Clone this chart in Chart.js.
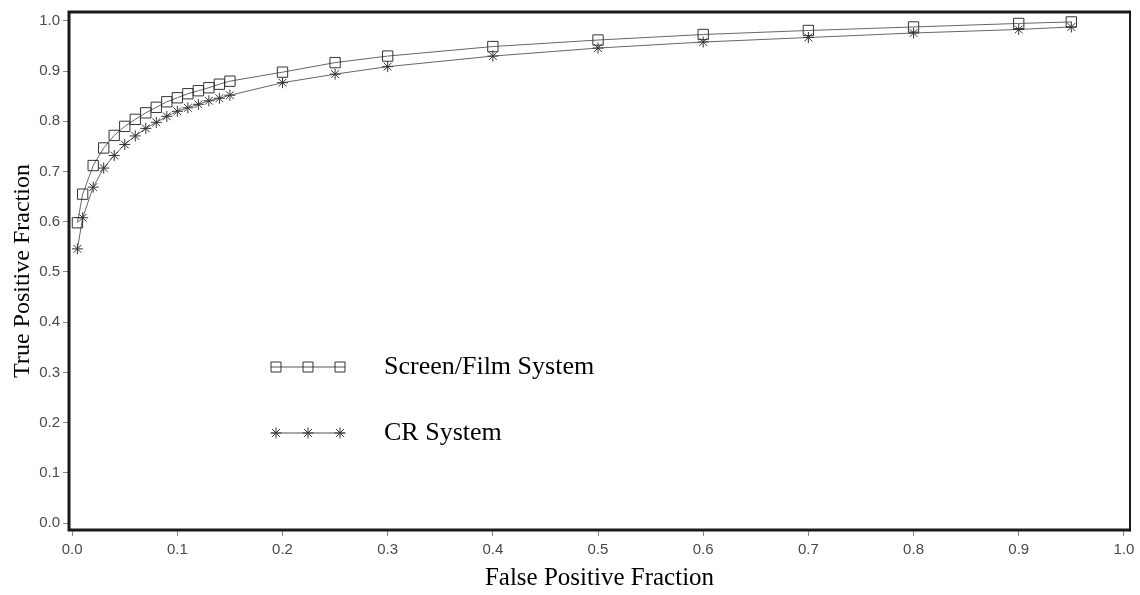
<!DOCTYPE html>
<html>
<head>
<meta charset="utf-8">
<title>ROC curves</title>
<script src="https://cdn.jsdelivr.net/npm/chart.js@4"></script>
<style>
  html, body { margin: 0; padding: 0; background: #fff; }
  #wrap { width: 1140px; height: 595px; }
</style>
</head>
<body>
<div id="wrap"><canvas id="roc"></canvas></div>
<script>
// values
const fpf = [0.005, 0.01, 0.02, 0.03, 0.04, 0.05, 0.06, 0.07, 0.08, 0.09, 0.10, 0.11, 0.12,
  0.13, 0.14, 0.15, 0.2, 0.25, 0.3, 0.4, 0.5, 0.6, 0.7, 0.8, 0.9, 0.95];
const screenFilm = [0.598, 0.655, 0.712, 0.747, 0.772, 0.790, 0.804, 0.817, 0.828, 0.839, 0.847,
  0.855, 0.861, 0.867, 0.874, 0.880, 0.898, 0.917, 0.930, 0.949, 0.962, 0.973, 0.981, 0.988, 0.995, 0.998];
const crSystem = [0.546, 0.608, 0.669, 0.707, 0.732, 0.754, 0.771, 0.786, 0.798, 0.810, 0.820,
  0.827, 0.834, 0.841, 0.846, 0.852, 0.877, 0.894, 0.909, 0.930, 0.946, 0.958, 0.967, 0.976, 0.983, 0.988];
const seriesNames = ['Screen/Film System', 'CR System'];
const xTicks = [0, 0.1, 0.2, 0.3, 0.4, 0.5, 0.6, 0.7, 0.8, 0.9, 1.0];
const yTicks = [0, 0.1, 0.2, 0.3, 0.4, 0.5, 0.6, 0.7, 0.8, 0.9, 1.0];
const xTitle = 'False Positive Fraction';
const yTitle = 'True Positive Fraction';

const serif = '"Liberation Serif", "Times New Roman", serif';
const sans = '"Liberation Sans", Arial, sans-serif';

function toPoints(ys) {
  return fpf.map((x, i) => ({ x: x, y: ys[i] }));
}

function drawMarker(ctx, style, x, y) {
  ctx.beginPath();
  if (style === 'rect') {
    ctx.rect(x - 5, y - 5, 10, 10);
  } else {
    const r = 5.5;
    ctx.moveTo(x, y - r); ctx.lineTo(x, y + r);
    ctx.moveTo(x - r, y); ctx.lineTo(x + r, y);
    const d = r * 0.72;
    ctx.moveTo(x - d, y - d); ctx.lineTo(x + d, y + d);
    ctx.moveTo(x - d, y + d); ctx.lineTo(x + d, y - d);
  }
  ctx.stroke();
}

// frame round the plot area
const framePlugin = {
  id: 'frame',
  afterDraw(chart) {
    const { ctx, chartArea: a } = chart;
    ctx.save();
    ctx.strokeStyle = '#1a1a1a';
    ctx.lineWidth = 3;
    ctx.beginPath();
    ctx.moveTo(a.right, a.top);
    ctx.lineTo(a.left, a.top);
    ctx.lineTo(a.left, a.bottom);
    ctx.lineTo(a.right, a.bottom);
    ctx.stroke();
    ctx.lineWidth = 2;
    ctx.beginPath();
    ctx.moveTo(a.right, a.top - 1.5);
    ctx.lineTo(a.right, a.bottom + 1.5);
    ctx.stroke();
    ctx.restore();
  }
};

// legend drawn inside the plot
const innerLegend = {
  id: 'innerLegend',
  afterDraw(chart) {
    const ctx = chart.ctx;
    const rows = [367, 433];
    ctx.save();
    chart.data.datasets.forEach((ds, i) => {
      const y = rows[i];
      ctx.strokeStyle = '#555';
      ctx.lineWidth = 1;
      ctx.beginPath();
      ctx.moveTo(271, y);
      ctx.lineTo(345, y);
      ctx.stroke();
      ctx.strokeStyle = '#333';
      [276, 308, 340].forEach(px => drawMarker(ctx, ds.pointStyle, px, y));
      ctx.fillStyle = '#000';
      ctx.font = '26px ' + serif;
      ctx.textBaseline = 'middle';
      ctx.textAlign = 'left';
      ctx.fillText(ds.label, 384, y);
    });
    ctx.restore();
  }
};

new Chart(document.getElementById('roc'), {
  type: 'line',
  data: {
    datasets: [
      {
        label: seriesNames[0],
        data: toPoints(screenFilm),
        borderColor: '#666',
        borderWidth: 1,
        pointStyle: 'rect',
        pointRadius: 7.3,
        pointBorderColor: '#333',
        pointBorderWidth: 1,
        pointBackgroundColor: 'rgba(0,0,0,0)',
        tension: 0
      },
      {
        label: seriesNames[1],
        data: toPoints(crSystem),
        borderColor: '#666',
        borderWidth: 1,
        pointStyle: 'star',
        pointRadius: 5.5,
        pointBorderColor: '#333',
        pointBorderWidth: 1,
        pointBackgroundColor: 'rgba(0,0,0,0)',
        tension: 0
      }
    ]
  },
  options: {
    responsive: true,
    maintainAspectRatio: false,
    animation: false,
    layout: { padding: { top: 9, right: 10, left: 0, bottom: 0 } },
    plugins: {
      legend: { display: false },
      tooltip: { enabled: false }
    },
    scales: {
      x: {
        type: 'linear',
        min: -0.003,
        max: 1.0058,
        afterFit: s => { s.height = 65; },
        afterBuildTicks: s => { s.ticks = xTicks.map(v => ({ value: v })); },
        grid: { drawOnChartArea: false, drawTicks: true, tickLength: 6, color: '#888' },
        border: { display: false },
        ticks: {
          padding: 5,
          color: '#4a4a4a',
          font: { family: sans, size: 15 },
          callback: v => v.toFixed(1)
        },
        title: {
          display: true,
          text: xTitle,
          color: '#000',
          font: { family: serif, size: 25 },
          padding: { top: 0, bottom: 2 }
        }
      },
      y: {
        type: 'linear',
        min: -0.0139,
        max: 1.0178,
        afterFit: s => { s.width = 69; },
        afterBuildTicks: s => { s.ticks = yTicks.map(v => ({ value: v })); },
        grid: { drawOnChartArea: false, drawTicks: true, tickLength: 6, color: '#888' },
        border: { display: false },
        ticks: {
          padding: 3,
          color: '#4a4a4a',
          font: { family: sans, size: 15 },
          callback: v => v.toFixed(1)
        },
        title: {
          display: true,
          text: yTitle,
          color: '#000',
          font: { family: serif, size: 24 },
          padding: { top: 8, bottom: 0 }
        }
      }
    }
  },
  plugins: [framePlugin, innerLegend]
});
</script>
</body>
</html>
